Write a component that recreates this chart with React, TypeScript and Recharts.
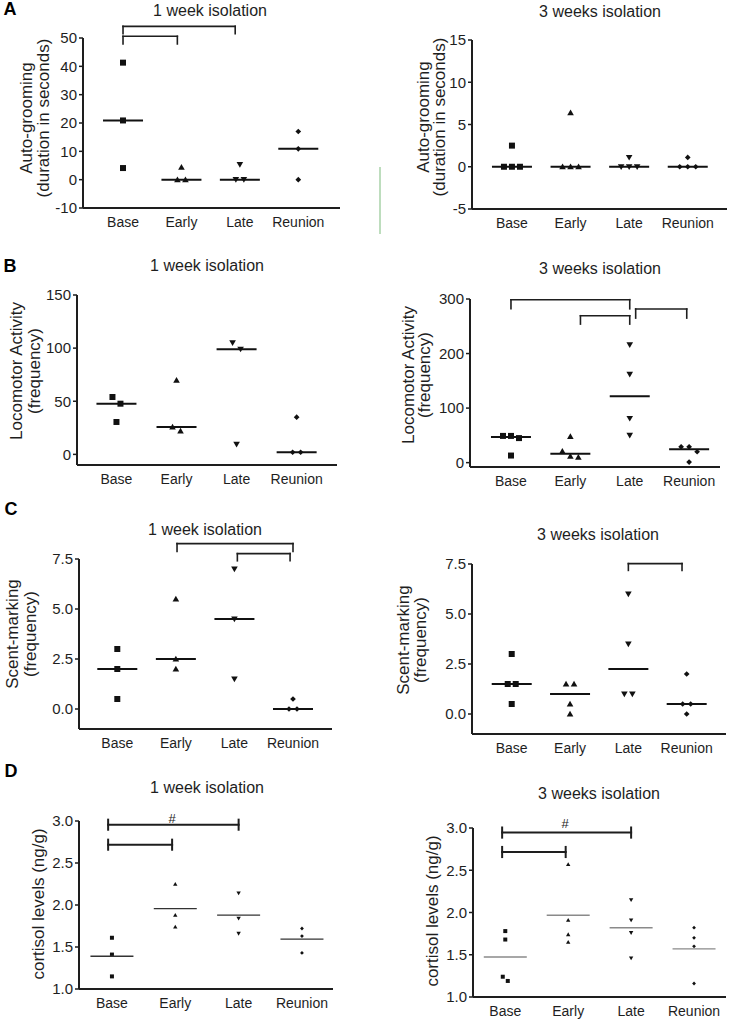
import React from 'react';
import { ScatterChart, Scatter, XAxis, YAxis, ReferenceLine } from 'recharts';

const categories = ['Base', 'Early', 'Late', 'Reunion'];

// A - auto-grooming (duration in seconds), one inner array per category
const grooming1w = [[41.3, 20.9, 4.1], [4.4, 0, 0], [5.3, 0, 0], [17, 10.9, 0]];
const grooming3w = [[2.5, 0, 0, 0], [6.4, 0, 0, 0], [1.1, 0, 0, 0], [1.1, 0, 0, 0]];
// B - locomotor activity (frequency)
const locomotor1w = [[54, 47.7, 30.5], [69.8, 25.8, 22], [105, 99, 9.4], [35, 2, 2]];
const locomotor3w = [[49, 49, 45, 13], [48, 21, 12, 10], [216, 162, 81, 50], [29, 29, 20, 1]];
// C - scent-marking (frequency)
const scent1w = [[3, 2, 0.5], [5.5, 2.5, 2], [7, 4.5, 1.5], [0.5, 0, 0]];
const scent3w = [[3, 1.5, 1.5, 0.5], [1.5, 1.5, 0.5, 0], [6, 3.5, 1, 1], [2, 0.5, 0.5, 0]];
// D - cortisol levels (ng/g)
const cortisol1w = [[1.61, 1.41, 1.15], [2.25, 1.88, 1.74], [2.14, 1.84, 1.66], [1.72, 1.63, 1.43]];
const cortisol3w = [[1.78, 1.68, 1.24, 1.19], [2.57, 1.91, 1.74, 1.65], [2.15, 1.91, 1.76, 1.46], [1.82, 1.7, 1.6, 1.16]];

// y ticks
const groom1wTicks = [-10, 0, 10, 20, 30, 40, 50];
const groom3wTicks = [-5, 0, 5, 10, 15];
const loco1wTicks = [0, 50, 100, 150];
const loco3wTicks = [0, 100, 200, 300];
const scentTicks = [0, 2.5, 5, 7.5];
const cortisolTicks = [1, 1.5, 2, 2.5, 3];

// significant comparisons (category index pairs)
const groom1wPairs = [[0, 2], [0, 1]];
const loco3wPairs = [[0, 2], [1, 2], [2, 3]];
const scent1wPairs = [[1, 3], [2, 3]];
const scent3wPairs = [[2, 3]];
const cortisolPairs = [[0, 2], [0, 1]];

const INK = '#1e1e1e';
const ML = 70, MT = 50, MR = 10, XH = 30;

type Bracket = { pair: number[]; y: number; drop: number; dx?: [number, number] };
type Panel = {
  values: number[][];
  stat: 'median' | 'mean';
  box: [number, number, number, number];
  xDomain: [number, number];
  yDomain: [number, number];
  yTicks: number[];
  fmt: (v: number) => string;
  small?: boolean;
  lineColor?: string;
  capStyle?: boolean;
  brackets: Bracket[];
};

const intFmt = (v: number) => String(v);
const oneDec = (v: number) => v.toFixed(1);

const median = (a: number[]) => {
  const s = [...a].sort((p, q) => p - q);
  const m = Math.floor(s.length / 2);
  return s.length % 2 ? s[m] : (s[m - 1] + s[m]) / 2;
};
const mean = (a: number[]) => a.reduce((p, q) => p + q, 0) / a.length;

// Prism-like horizontal spreading of points that would overlap
function spread(vals: number[], idx: number, pxX: number, pxY: number, thresh: number, gap: number) {
  const s = [...vals].sort((a, b) => b - a);
  const out: { x: number; y: number }[] = [];
  let i = 0;
  while (i < s.length) {
    let j = i + 1;
    while (j < s.length && (s[j - 1] - s[j]) * pxY < thresh) j++;
    const n = j - i;
    for (let k = 0; k < n; k++) out.push({ x: idx + 1 + ((k - (n - 1) / 2) * gap) / pxX, y: s[i + k] });
    i = j;
  }
  return out;
}

function markerPath(kind: number, cx: number, cy: number, s: number) {
  const h = s / 2;
  if (kind === 0) return `M${cx - h},${cy - h}h${s}v${s}h${-s}Z`;
  if (kind === 1) return `M${cx},${cy - h * 1.05}L${cx + h * 1.1},${cy + h * 0.85}L${cx - h * 1.1},${cy + h * 0.85}Z`;
  if (kind === 2) return `M${cx},${cy + h * 1.05}L${cx + h * 1.1},${cy - h * 0.85}L${cx - h * 1.1},${cy - h * 0.85}Z`;
  const d = h * 0.95;
  return `M${cx},${cy - d}L${cx + d},${cy}L${cx},${cy + d}L${cx - d},${cy}Z`;
}

const panels: Panel[] = [
  {
    values: grooming1w, stat: 'median', box: [83, 38, 340, 208], xDomain: [0.315, 4.714],
    yDomain: [-10, 50], yTicks: groom1wTicks, fmt: intFmt,
    brackets: [
      { pair: groom1wPairs[0], y: 54.1, drop: 2.6, dx: [0, -0.08] },
      { pair: groom1wPairs[1], y: 50.6, drop: 2.7, dx: [0, -0.07] },
    ],
  },
  {
    values: grooming3w, stat: 'median', box: [472, 40, 727, 209], xDomain: [0.318, 4.67],
    yDomain: [-5, 15], yTicks: groom3wTicks, fmt: intFmt, brackets: [],
  },
  {
    values: locomotor1w, stat: 'median', box: [77, 295, 337, 465], xDomain: [0.343, 4.672],
    yDomain: [-10, 150], yTicks: loco1wTicks, fmt: intFmt, brackets: [],
  },
  {
    values: locomotor3w, stat: 'median', box: [470, 299, 720, 467], xDomain: [0.31, 4.52],
    yDomain: [-8, 300], yTicks: loco3wTicks, fmt: intFmt,
    brackets: [
      { pair: loco3wPairs[0], y: 298.7, drop: 16.7 },
      { pair: loco3wPairs[1], y: 269.3, drop: 15.3, dx: [0.17, 0] },
      { pair: loco3wPairs[2], y: 281.6, drop: 16.6, dx: [0.1, -0.04] },
    ],
  },
  {
    values: scent1w, stat: 'median', box: [79, 559, 332, 729], xDomain: [0.346, 4.666],
    yDomain: [-1, 7.5], yTicks: scentTicks, fmt: oneDec,
    brackets: [
      { pair: scent1wPairs[0], y: 8.27, drop: 0.39, dx: [0.02, 0] },
      { pair: scent1wPairs[1], y: 7.77, drop: 0.36, dx: [0.05, -0.05] },
    ],
  },
  {
    values: scent3w, stat: 'median', box: [472, 564, 726, 734], xDomain: [0.319, 4.674],
    yDomain: [-1, 7.5], yTicks: scentTicks, fmt: oneDec,
    brackets: [{ pair: scent3wPairs[0], y: 7.52, drop: 0.34, dx: [0, -0.08] }],
  },
  {
    values: cortisol1w, stat: 'mean', box: [79, 821, 333, 989], xDomain: [0.48, 4.49],
    yDomain: [1, 3], yTicks: cortisolTicks, fmt: oneDec, small: true, lineColor: '#333', capStyle: true,
    brackets: [
      { pair: cortisolPairs[0], y: 2.956, drop: 0.06, dx: [-0.06, 0] },
      { pair: cortisolPairs[1], y: 2.718, drop: 0.06, dx: [-0.06, -0.05] },
    ],
  },
  {
    values: cortisol3w, stat: 'mean', box: [473, 828, 726, 997], xDomain: [0.487, 4.508],
    yDomain: [1, 3], yTicks: cortisolTicks, fmt: oneDec, small: true, lineColor: '#8a8a8a', capStyle: true,
    brackets: [
      { pair: cortisolPairs[0], y: 2.946, drop: 0.06, dx: [-0.05, 0] },
      { pair: cortisolPairs[1], y: 2.716, drop: 0.06, dx: [-0.05, -0.04] },
    ],
  },
];

function DotPanel({ p }: { p: Panel }) {
  const [l, t, r, b] = p.box;
  const pw = r - l, ph = b - t;
  const pxX = pw / (p.xDomain[1] - p.xDomain[0]);
  const pxY = ph / (p.yDomain[1] - p.yDomain[0]);
  const size = p.small ? 4 : 6;
  const thresh = p.small ? 6 : 7;
  const gap = p.small ? 5 : 8;
  const stats = p.values.map((v, i) => ({ x: i + 1, y: p.stat === 'median' ? median(v) : mean(v) }));
  const hw = p.small ? 21.5 : 20;
  const lines: React.ReactNode[] = [];
  p.brackets.forEach((br, k) => {
    const x1 = br.pair[0] + 1 + (br.dx ? br.dx[0] : 0);
    const x2 = br.pair[1] + 1 + (br.dx ? br.dx[1] : 0);
    const sw = p.capStyle ? 2 : 1.6;
    const segs = p.capStyle
      ? [
          [{ x: x1, y: br.y }, { x: x2, y: br.y }],
          [{ x: x1, y: br.y + br.drop }, { x: x1, y: br.y - br.drop }],
          [{ x: x2, y: br.y + br.drop }, { x: x2, y: br.y - br.drop }],
        ]
      : [
          [{ x: x1, y: br.y }, { x: x2, y: br.y }],
          [{ x: x1, y: br.y }, { x: x1, y: br.y - br.drop }],
          [{ x: x2, y: br.y }, { x: x2, y: br.y - br.drop }],
        ];
    segs.forEach((s, j) =>
      lines.push(
        <ReferenceLine key={`b${k}-${j}`} segment={s} stroke={INK} strokeWidth={sw} strokeLinecap="square" ifOverflow="visible" />,
      ),
    );
  });
  return (
    <div style={{ position: 'absolute', left: l - ML, top: t - MT }}>
      <ScatterChart width={pw + ML + MR} height={ph + MT + XH} margin={{ top: MT, right: MR, bottom: 0, left: 0 }}>
        <XAxis
          type="number"
          dataKey="x"
          domain={p.xDomain}
          allowDataOverflow
          ticks={[1, 2, 3, 4]}
          interval={0}
          tickFormatter={(v: number) => categories[v - 1]}
          tickLine={false}
          tickSize={0}
          tickMargin={9}
          height={XH}
          axisLine={{ stroke: INK, strokeWidth: 2 }}
          tick={{ fontSize: 14, fill: INK }}
        />
        <YAxis
          type="number"
          dataKey="y"
          domain={p.yDomain}
          allowDataOverflow
          ticks={p.yTicks}
          interval={0}
          tickFormatter={p.fmt}
          width={ML}
          tickSize={4}
          tickMargin={2}
          axisLine={{ stroke: INK, strokeWidth: 2 }}
          tickLine={{ stroke: INK, strokeWidth: 1.5 }}
          tick={{ fontSize: 15, fill: INK }}
        />
        {p.values.map((v, i) => (
          <Scatter
            key={categories[i]}
            name={categories[i]}
            data={spread(v, i, pxX, pxY, thresh, gap)}
            isAnimationActive={false}
            shape={(s: any) => <path d={markerPath(i, s.cx, s.cy, size)} fill="#111" />}
          />
        ))}
        <Scatter
          name={p.stat}
          data={stats}
          isAnimationActive={false}
          shape={(s: any) => (
            <line x1={s.cx - hw} x2={s.cx + hw} y1={s.cy} y2={s.cy} stroke={p.lineColor || '#111'} strokeWidth={p.small ? 1.4 : 2} />
          )}
        />
        {lines}
      </ScatterChart>
    </div>
  );
}

const titles: [string, number, number][] = [
  ['1 week isolation', 210, 10], ['3 weeks isolation', 600, 11],
  ['1 week isolation', 207, 265], ['3 weeks isolation', 600, 268],
  ['1 week isolation', 205, 529], ['3 weeks isolation', 598, 534],
  ['1 week isolation', 207, 787], ['3 weeks isolation', 599, 793],
];
const letters: [string, number, number][] = [['A', 10, 9], ['B', 10, 266], ['C', 11, 509], ['D', 11, 771]];
const yLabels: [string, number, number][] = [
  ['Auto-grooming', 26, 118], ['(duration in seconds)', 43, 118],
  ['Auto-grooming', 423, 117], ['(duration in seconds)', 439, 117],
  ['Locomotor Activity', 16, 371], ['(frequency)', 34, 371],
  ['Locomotor Activity', 408, 375], ['(frequency)', 424, 375],
  ['Scent-marking', 12, 634], ['(frequency)', 30, 634],
  ['Scent-marking', 403, 640], ['(frequency)', 420, 640],
  ['cortisol levels (ng/g)', 38, 904], ['cortisol levels (ng/g)', 432, 911],
];
const hashes: [number, number][] = [[172, 818], [565, 823]];

export default function App() {
  return (
    <div
      style={{
        position: 'absolute', left: 0, top: 0, width: 733, height: 1020, overflow: 'hidden',
        background: '#fff', fontFamily: '"Liberation Sans", Arial, sans-serif',
      }}
    >
      {panels.map((p, i) => (
        <DotPanel key={i} p={p} />
      ))}
      <svg width={733} height={1020} style={{ position: 'absolute', left: 0, top: 0, pointerEvents: 'none' }}>
        {titles.map(([s, x, y], i) => (
          <text key={`t${i}`} x={x} y={y} fontSize={16} fill={INK} textAnchor="middle" dominantBaseline="central">{s}</text>
        ))}
        {letters.map(([s, x, y]) => (
          <text key={s} x={x} y={y} fontSize={18} fontWeight="bold" fill="#000" textAnchor="middle" dominantBaseline="central">{s}</text>
        ))}
        {yLabels.map(([s, x, y], i) => (
          <text key={`y${i}`} x={x} y={y} fontSize={17} fill={INK} textAnchor="middle" dominantBaseline="central" transform={`rotate(-90 ${x} ${y})`}>{s}</text>
        ))}
        {hashes.map(([x, y], i) => (
          <text key={`h${i}`} x={x} y={y} fontSize={13} fill={INK} textAnchor="middle" dominantBaseline="central">#</text>
        ))}
        <line x1={380} x2={380} y1={167} y2={234} stroke="#7dbb7d" strokeWidth={1} />
      </svg>
    </div>
  );
}
